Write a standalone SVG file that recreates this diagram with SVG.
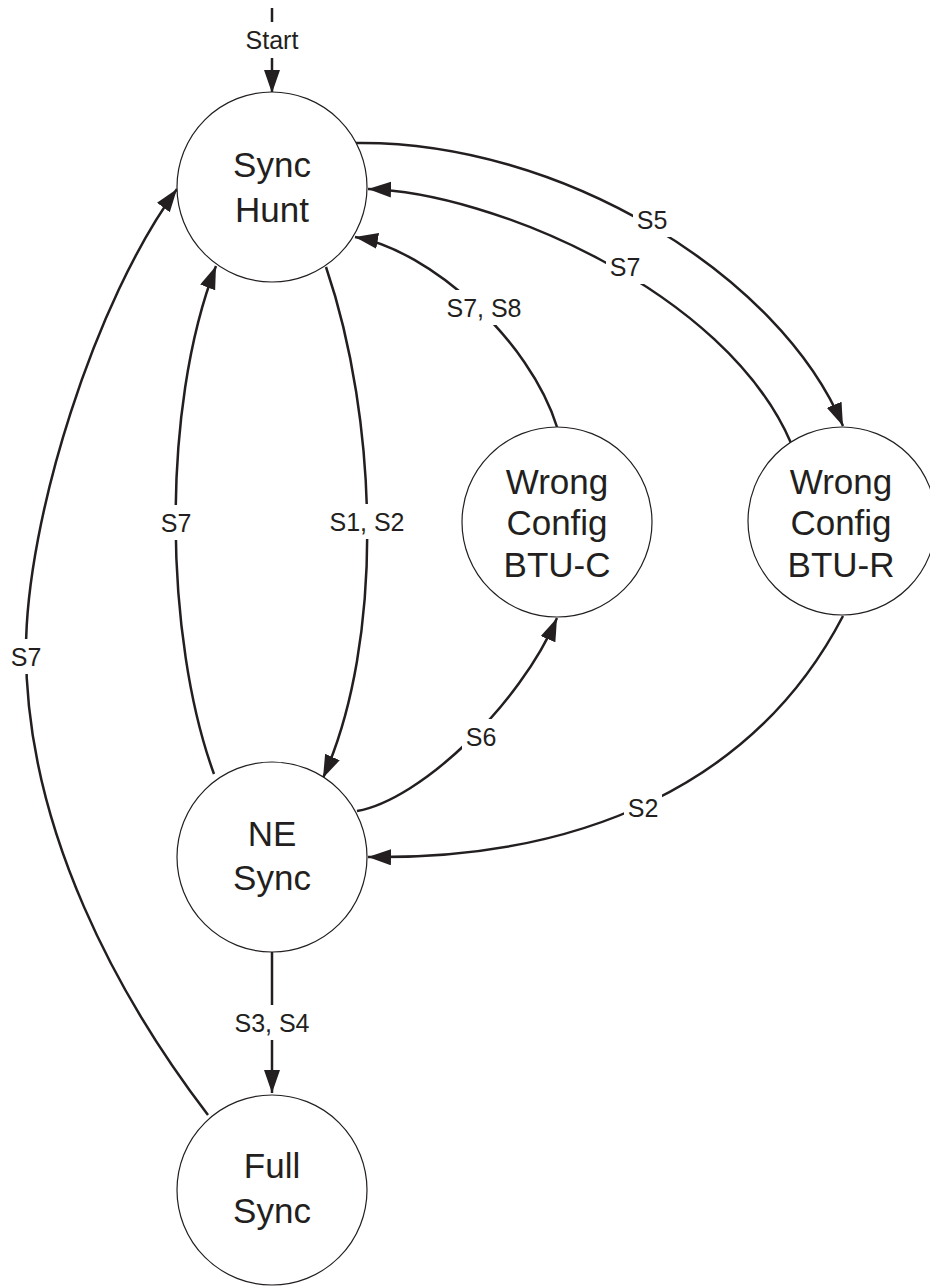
<svg xmlns="http://www.w3.org/2000/svg" width="930" height="1286" viewBox="0 0 930 1286">
  <defs>
    <marker id="arrow" markerUnits="userSpaceOnUse" markerWidth="24" markerHeight="17" refX="23" refY="8" orient="auto">
      <path d="M0,0 L23,8 L0,16 z" fill="#231f20"/>
    </marker>
    <style>
      .state { fill: #ffffff; stroke: #231f20; stroke-width: 1.2; }
      .name { font-family: "Liberation Sans", Arial, sans-serif; font-size: 35px; fill: #231f20; text-anchor: middle; }
      .edge { fill: none; stroke: #231f20; stroke-width: 2.5; }
      .arrowed { marker-end: url(#arrow); }
      .lbl { font-family: "Liberation Sans", Arial, sans-serif; font-size: 25px; fill: #231f20; text-anchor: middle; }
      .gap { fill: #ffffff; }
    </style>
  </defs>
  <rect width="930" height="1286" fill="#ffffff"/>

  <g id="connectors">
    <!-- entry -->
    <path class="edge arrowed" d="M272,8 L272,93"/>
    <!-- Sync Hunt -> Wrong Config BTU-R -->
    <path class="edge arrowed" d="M355,143 C560,140 780,275 843,426"/>
    <!-- Wrong Config BTU-R -> Sync Hunt -->
    <path class="edge arrowed" d="M791,443 C725,290 490,192 368,189"/>
    <!-- Wrong Config BTU-C -> Sync Hunt -->
    <path class="edge arrowed" d="M557,427 C530,340 430,250 355,237"/>
    <!-- Sync Hunt -> NE Sync -->
    <path class="edge arrowed" d="M326,267 C378,420 385,640 323,778"/>
    <!-- NE Sync -> Sync Hunt -->
    <path class="edge arrowed" d="M214,774 C165,640 160,410 216,266"/>
    <!-- Full Sync -> Sync Hunt -->
    <path class="edge arrowed" d="M208,1115 C120,1000 26,830 26,650 C26,520 95,300 177,189"/>
    <!-- NE Sync -> Wrong Config BTU-C -->
    <path class="edge arrowed" d="M357,811 C420,800 520,705 557,618"/>
    <!-- Wrong Config BTU-R -> NE Sync -->
    <path class="edge arrowed" d="M843,616 C755,785 580,860 368,857"/>
    <!-- NE Sync -> Full Sync -->
    <path class="edge arrowed" d="M272,951 L272,1093"/>

    <!-- transition labels -->
    <rect class="gap" x="238" y="22" width="68" height="36"/>
    <text class="lbl" x="272" y="49">Start</text>
    <rect class="gap" x="633" y="202" width="38" height="35"/>
    <text class="lbl" x="652" y="229">S5</text>
    <rect class="gap" x="606" y="249" width="38" height="35"/>
    <text class="lbl" x="625" y="276">S7</text>
    <rect class="gap" x="440" y="290" width="88" height="35"/>
    <text class="lbl" x="484" y="317">S7, S8</text>
    <rect class="gap" x="323" y="504" width="88" height="35"/>
    <text class="lbl" x="367" y="531">S1, S2</text>
    <rect class="gap" x="157" y="505" width="38" height="35"/>
    <text class="lbl" x="176" y="532">S7</text>
    <rect class="gap" x="7" y="639" width="38" height="35"/>
    <text class="lbl" x="26" y="666">S7</text>
    <rect class="gap" x="462" y="719" width="38" height="35"/>
    <text class="lbl" x="481" y="746">S6</text>
    <rect class="gap" x="624" y="790" width="38" height="35"/>
    <text class="lbl" x="643" y="817">S2</text>
    <rect class="gap" x="228" y="1005" width="88" height="35"/>
    <text class="lbl" x="272" y="1032">S3, S4</text>
  </g>

  <g id="sync-hunt">
    <circle class="state" cx="272" cy="187" r="95"/>
    <text class="name" x="272" y="177">Sync</text>
    <text class="name" x="272" y="222">Hunt</text>
  </g>

  <g id="ne-sync">
    <circle class="state" cx="272" cy="857" r="95"/>
    <text class="name" x="272" y="846">NE</text>
    <text class="name" x="272" y="890">Sync</text>
  </g>

  <g id="full-sync">
    <circle class="state" cx="272" cy="1190" r="95"/>
    <text class="name" x="272" y="1178">Full</text>
    <text class="name" x="272" y="1223">Sync</text>
  </g>

  <g id="wrong-config-btu-c">
    <circle class="state" cx="557" cy="522" r="95"/>
    <text class="name" x="557" y="494">Wrong</text>
    <text class="name" x="557" y="535">Config</text>
    <text class="name" x="557" y="577">BTU-C</text>
  </g>

  <g id="wrong-config-btu-r">
    <circle class="state" cx="842" cy="521" r="94"/>
    <text class="name" x="841" y="494">Wrong</text>
    <text class="name" x="841" y="535">Config</text>
    <text class="name" x="841" y="577">BTU-R</text>
  </g>
</svg>
